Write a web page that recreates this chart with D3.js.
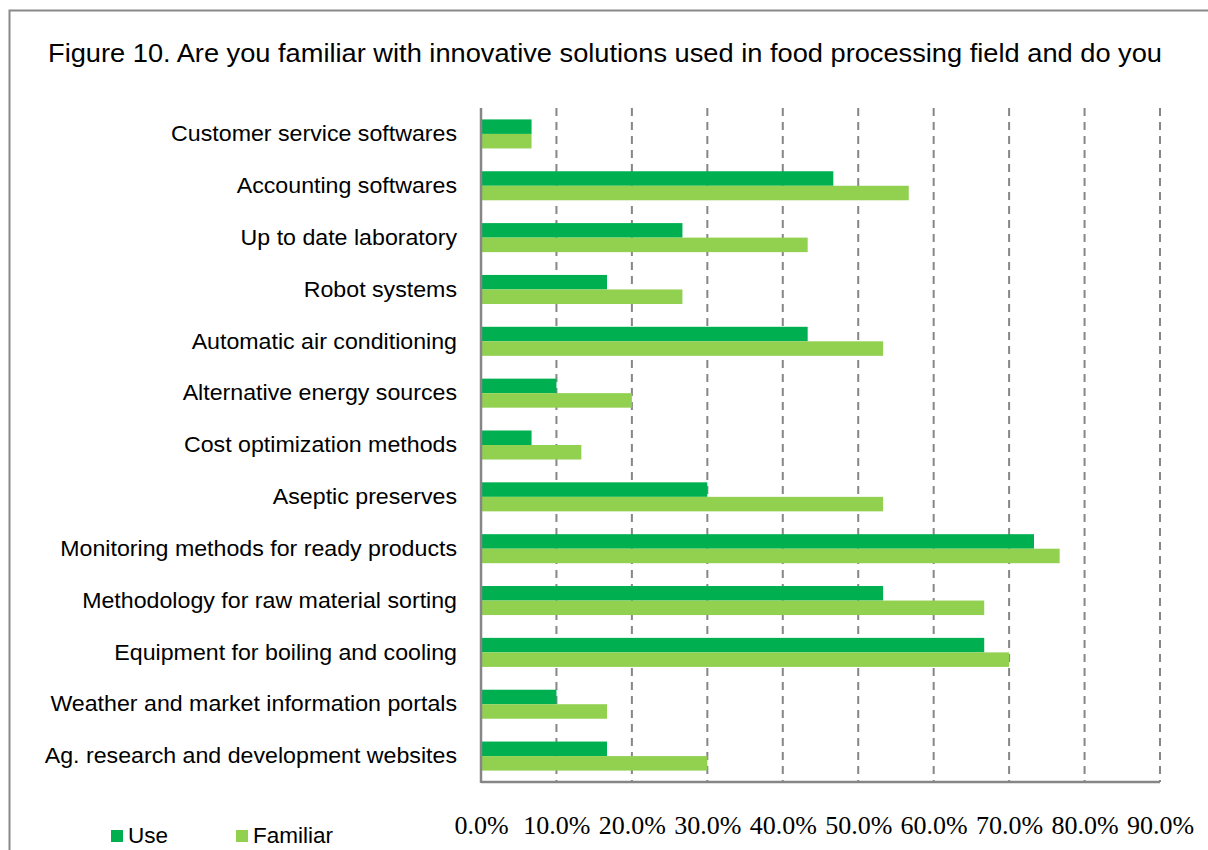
<!DOCTYPE html>
<html>
<head>
<meta charset="utf-8">
<script src="https://cdn.jsdelivr.net/npm/d3@7"></script>
<style>
  html, body { margin: 0; padding: 0; background: #fff; }
  svg { display: block; }
</style>
</head>
<body>
<svg id="chart" width="1208" height="850"></svg>
<script>
// Survey answers, share of respondents
const categories = [
  "Customer service softwares",
  "Accounting softwares",
  "Up to date laboratory",
  "Robot systems",
  "Automatic air conditioning",
  "Alternative energy sources",
  "Cost optimization methods",
  "Aseptic preserves",
  "Monitoring methods for ready products",
  "Methodology for raw material sorting",
  "Equipment for boiling and cooling",
  "Weather and market information portals",
  "Ag. research and development websites"
];
const useValues      = [0.067, 0.467, 0.267, 0.167, 0.433, 0.100, 0.067, 0.300, 0.733, 0.533, 0.667, 0.100, 0.167];
const familiarValues = [0.067, 0.567, 0.433, 0.267, 0.533, 0.200, 0.133, 0.533, 0.767, 0.667, 0.700, 0.167, 0.300];
const xTicks = [0, 0.1, 0.2, 0.3, 0.4, 0.5, 0.6, 0.7, 0.8, 0.9];
const seriesNames = ["Use", "Familiar"];
const seriesColors = ["#00B050", "#92D050"];

const svg = d3.select("#chart");
const sansFont = "Liberation Sans, Arial, sans-serif";

// outer frame
svg.append("rect")
  .attr("x", 9.5).attr("y", 10.5)
  .attr("width", 1240).attr("height", 900)
  .attr("fill", "#fff").attr("stroke", "#898989").attr("stroke-width", 2);

svg.append("text")
  .attr("x", 48).attr("y", 62)
  .attr("font-family", sansFont)
  .attr("font-size", 25)
  .attr("fill", "#000")
  .attr("textLength", 1114)
  .attr("lengthAdjust", "spacingAndGlyphs")
  .text("Figure 10. Are you familiar with innovative solutions used in food processing field and do you");

const plotLeft = 481, plotRight = 1160, plotTop = 108, plotBottom = 782;

const x = d3.scaleLinear().domain([0, 0.9]).range([plotLeft, plotRight]);
const y = d3.scaleBand().domain(categories).range([plotTop, plotBottom]).paddingInner(0.44).paddingOuter(0.22);
const sub = d3.scaleBand().domain(seriesNames).range([0, y.bandwidth()]);

// dashed vertical gridlines
svg.append("g").selectAll("line")
  .data(xTicks.slice(1))
  .join("line")
  .attr("x1", d => x(d)).attr("x2", d => x(d))
  .attr("y1", plotTop).attr("y2", plotBottom)
  .attr("stroke", "#868686").attr("stroke-width", 2)
  .attr("stroke-dasharray", "8,6");

// bars
const rows = categories.map((c, i) => ({ c, vals: [useValues[i], familiarValues[i]] }));
const grp = svg.append("g").selectAll("g")
  .data(rows).join("g")
  .attr("transform", d => `translate(0,${y(d.c)})`);
grp.selectAll("rect")
  .data(d => d.vals.map((v, j) => ({ v, s: seriesNames[j], color: seriesColors[j] })))
  .join("rect")
  .attr("x", x(0))
  .attr("y", d => sub(d.s))
  .attr("width", d => x(d.v) - x(0))
  .attr("height", sub.bandwidth())
  .attr("fill", d => d.color);

// category axis
const yAxis = d3.axisLeft(y).tickSize(0).tickPadding(24);
const ya = svg.append("g").attr("transform", `translate(${plotLeft},0)`).call(yAxis);
ya.select(".domain").attr("stroke", "#868686").attr("stroke-width", 2.5)
  .attr("d", `M0,${plotTop}V${plotBottom + 1}`);
ya.selectAll("text")
  .attr("font-family", sansFont)
  .attr("font-size", 22.5).attr("fill", "#000")
  .each(function () {
    // slightly wider glyphs for the category names
    const w = this.getComputedTextLength();
    d3.select(this).attr("textLength", w * 1.03).attr("lengthAdjust", "spacingAndGlyphs");
  });

// value axis
const xAxis = d3.axisBottom(x).tickValues(xTicks).tickFormat(d3.format(".1%")).tickSize(0).tickPadding(34);
const xa = svg.append("g").attr("transform", `translate(0,${plotBottom})`).call(xAxis);
xa.select(".domain").attr("stroke", "#868686").attr("stroke-width", 2.5)
  .attr("d", `M${plotLeft},0H${plotRight}`);
xa.selectAll("text")
  .attr("font-family", "Liberation Serif, Times New Roman, serif")
  .attr("font-size", 26).attr("fill", "#000");

// legend
const legend = svg.append("g").selectAll("g")
  .data(seriesNames).join("g")
  .attr("transform", (d, i) => `translate(${111 + i * 125},830)`);
legend.append("rect").attr("width", 12).attr("height", 12)
  .attr("fill", (d, i) => seriesColors[i]);
legend.append("text").attr("x", 17).attr("y", 13)
  .attr("font-family", sansFont)
  .attr("font-size", 22.5).attr("fill", "#000")
  .text(d => d);
</script>
</body>
</html>
